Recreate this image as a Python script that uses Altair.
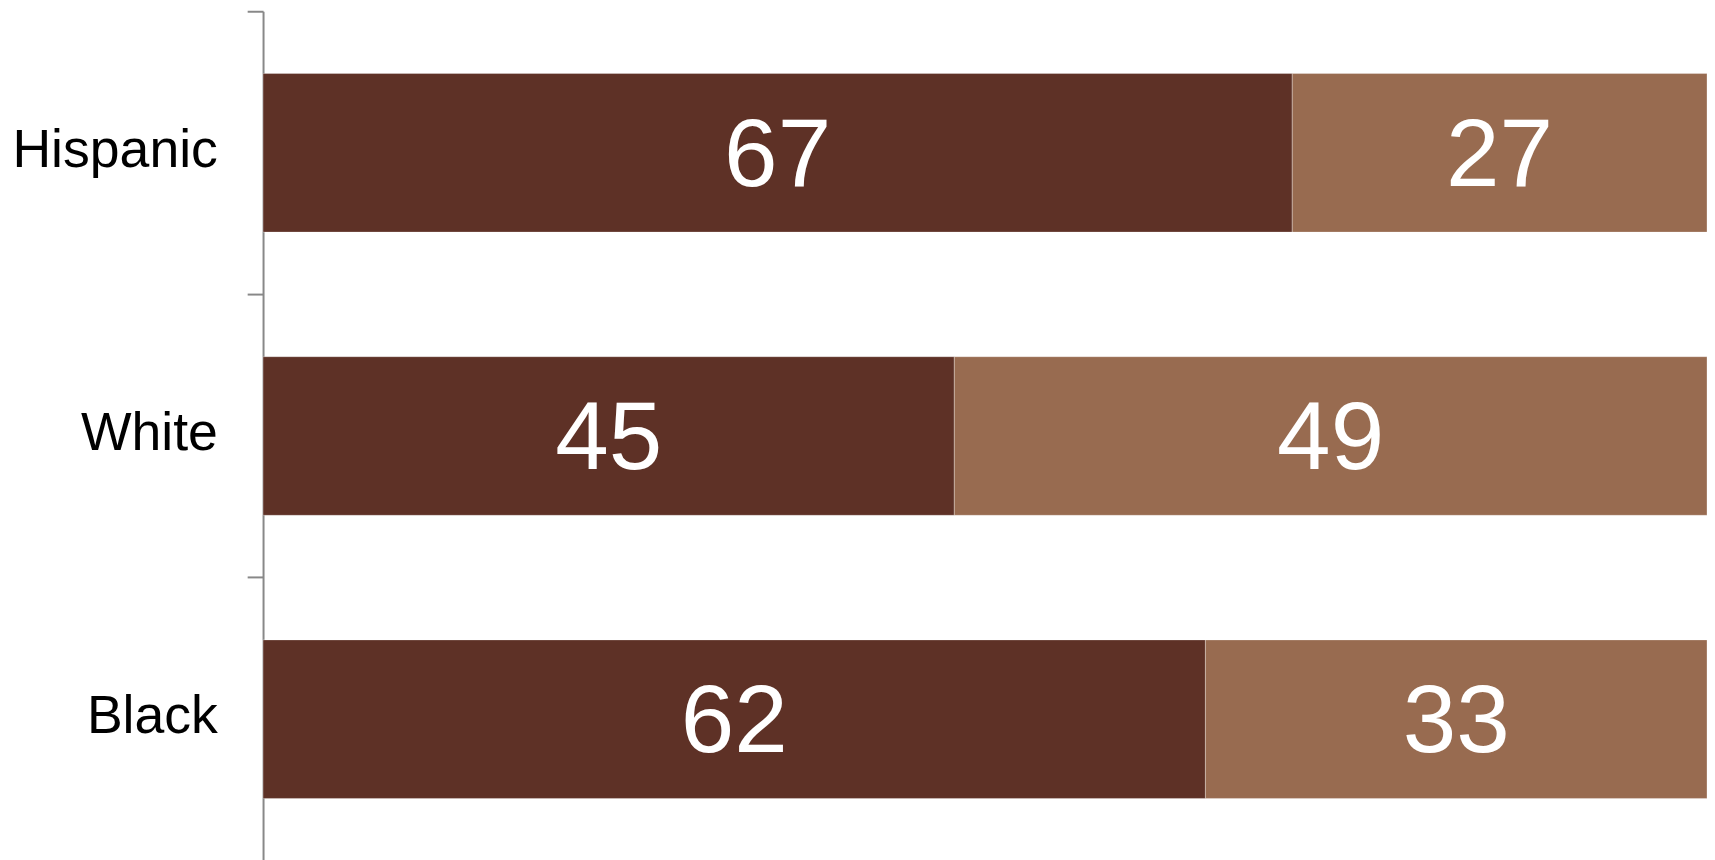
import altair as alt
import pandas as pd

groups = ["Hispanic", "White", "Black"]
first_values = [67, 45, 62]
second_values = [27, 49, 33]
series_names = ["First", "Second"]
series_colors = ["#5E3126", "#986B50"]

rows = []
for g, a, b in zip(groups, first_values, second_values):
    rows.append({"group": g, "series": series_names[0], "idx": 0, "value": a})
    rows.append({"group": g, "series": series_names[1], "idx": 1, "value": b})
df = pd.DataFrame(rows)

yenc = alt.Y(
    "group:N", sort=groups, title=None,
    scale=alt.Scale(paddingInner=0, paddingOuter=0),
    axis=alt.Axis(
        domainColor="#888888", domainWidth=2, tickColor="#888888", tickWidth=2,
        tickSize=16, bandPosition=0, labelFontSize=54, labelFont="Liberation Sans",
        labelColor="#000000", labelPadding=30, labelBaseline="middle", labelLimit=500,
        labelOffset=-2,
    ),
)

base = alt.Chart(df).transform_stack(
    stack="value", groupby=["group"], as_=["x0", "x1"], offset="normalize",
    sort=[alt.SortField("idx", order="ascending")]
).transform_calculate(mid="(datum.x0 + datum.x1) / 2").encode(y=yenc)

xscale = alt.Scale(domain=[0, 1], nice=False)

bars = base.mark_bar(height={"band": 0.56}, stroke="#ffffff", strokeWidth=0.6, strokeOpacity=0.5).encode(
    x=alt.X("x0:Q", axis=None, scale=xscale),
    x2="x1:Q",
    color=alt.Color("series:N", scale=alt.Scale(domain=series_names, range=series_colors), legend=None),
)

labels = base.mark_text(color="#ffffff", fontSize=97, font="Liberation Sans", baseline="middle", dy=4).encode(
    x=alt.X("mid:Q", axis=None, scale=xscale),
    text=alt.Text("value:Q"),
)

chart = alt.layer(bars, labels).properties(
    width=1455, height=856, background="#ffffff",
    autosize=alt.AutoSizeParams(type="none"),
    padding={"left": 257, "top": 0, "right": 0, "bottom": 0},
).configure_view(strokeWidth=0)

chart.save("out.html", embed_options={"renderer": "svg", "actions": False})
